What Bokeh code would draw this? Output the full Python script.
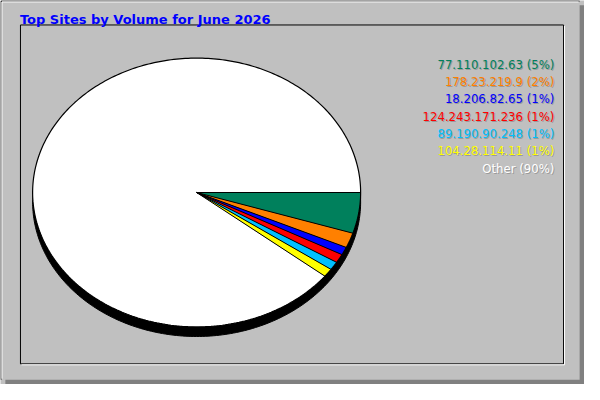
import numpy as np
from bokeh.plotting import figure
from bokeh.models import Range1d, ColumnDataSource
from bokeh.core.properties import value
from bokeh.embed import file_html
from bokeh.resources import INLINE

# ---- data ----
title_text = "Top Sites by Volume for June 2026"
hosts = ["77.110.102.63", "178.23.219.9", "18.206.82.65", "124.243.171.236",
         "89.190.90.248", "104.28.114.11", "Other"]
volume_pct = [4.9, 1.8, 0.95, 1.05, 1.0, 1.0, 89.3]
pct_labels = ["5%", "2%", "1%", "1%", "1%", "1%", "90%"]
slice_colors = ["#00805c", "#ff8000", "#0000ff", "#ff0000", "#00c0ff", "#ffff00", "#ffffff"]

# ---- layout (reference pixel space 600x400) ----
W, H = 600, 400
CX, CY, RX, RY = 201.5, 200.0, 168.5, 140.0
DEPTH = 10.0
LEG_X, LEG_Y0, LEG_DY = 569, 67, 18

p = figure(width=584, height=384, x_range=Range1d(0, W), y_range=Range1d(H, 0),
           output_backend="svg", toolbar_location=None, min_border=0)
p.axis.visible = False
p.grid.visible = False
p.outline_line_color = None
p.background_fill_color = "#c0c0c0"
p.border_fill_color = "#c0c0c0"

# outer frame: shadow strips, highlight, outline
p.quad(left=[W - 5, 5], right=[W, W], top=[5, H - 5], bottom=[H, H], fill_color="#808080", line_color=None)
p.segment(x0=[0.5, 0.5], y0=[0.5, 0.5], x1=[W - 5, 0.5], y1=[0.5, H - 5], line_color="#000000", line_width=1)
p.segment(x0=[1.5, 1.5], y0=[1.5, 1.5], x1=[W - 6, 1.5], y1=[1.5, H - 6], line_color="#ffffff", line_width=1)

# inner panel: black rectangle, white highlight bottom/right
p.segment(x0=[20.5, 20.5, 578.5, 20.5], y0=[25.5, 25.5, 25.5, 378.5],
          x1=[578.5, 20.5, 578.5, 578.5], y1=[25.5, 378.5, 378.5, 378.5],
          line_color="#000000", line_width=1)
p.segment(x0=[579.5, 21.5], y0=[26.5, 379.5], x1=[579.5, 579.5], y1=[379.5, 379.5],
          line_color="#ffffff", line_width=1)

# pie
t_full = np.linspace(0, 2 * np.pi, 361)
p.patch(CX + RX * np.cos(t_full), CY + DEPTH + RY * np.sin(t_full), fill_color="#000000", line_color="#000000")

fracs = np.array(volume_pct) / np.sum(volume_pct)
bounds = np.concatenate([[0.0], np.cumsum(fracs)]) * 2 * np.pi
xs, ys = [], []
for a0, a1 in zip(bounds[:-1], bounds[1:]):
    n = max(4, int((a1 - a0) / (2 * np.pi) * 360) + 2)
    t = np.linspace(a0, a1, n)
    xs.append(np.concatenate([[CX], CX + RX * np.cos(t)]))
    ys.append(np.concatenate([[CY], CY + RY * np.sin(t)]))
p.patches(xs, ys, fill_color=slice_colors, line_color=None)

p.line(CX + RX * np.cos(t_full), CY + RY * np.sin(t_full), line_color="#000000", line_width=1.2)
b = bounds[:-1]
p.segment(x0=[CX] * len(b), y0=[CY] * len(b), x1=CX + RX * np.cos(b), y1=CY + RY * np.sin(b),
          line_color="#000000", line_width=1)

# legend
labels = [f"{h} ({pc})" for h, pc in zip(hosts, pct_labels)]
ly = [LEG_Y0 + LEG_DY * i for i in range(len(labels))]
src = ColumnDataSource(dict(x=[LEG_X] * len(labels), y=ly, t=labels, c=slice_colors))
p.text(x="x", y="y", text="t", source=src, text_color="#9a9a9a", x_offset=1, y_offset=1,
       text_font=value("DejaVu Sans"), text_font_size=value("11.7px"),
       text_align="right", text_baseline="alphabetic")
p.text(x="x", y="y", text="t", source=src, text_color="c",
       text_font=value("DejaVu Sans"), text_font_size=value("11.7px"),
       text_align="right", text_baseline="alphabetic")

# title
p.text(x=[20], y=[19.5], text=[title_text], text_color="#0000ff",
       text_font=value("DejaVu Sans"), text_font_size=value("13px"), text_font_style="bold",
       text_align="left", text_baseline="alphabetic")

open("out.html", "w").write(file_html(p, INLINE))
